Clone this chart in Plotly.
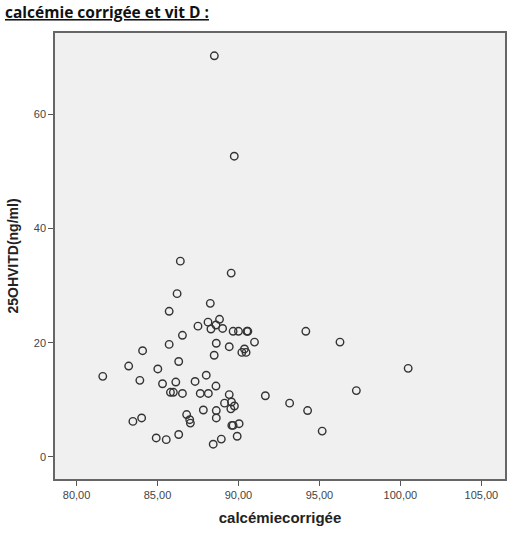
import plotly.graph_objects as go

# Data
calcemie = [88.51, 89.74, 86.41, 89.55, 86.21, 88.26, 85.72, 87.50, 88.12, 88.83,
            88.61, 88.30, 89.02, 89.67, 90.00, 90.52, 90.58, 86.54, 88.63, 90.99,
            85.72, 89.43, 90.37, 90.21, 90.47, 88.50, 84.08, 86.31, 83.22, 85.02,
            81.62, 83.91, 88.01, 85.31, 86.13, 87.32, 88.61, 85.80, 85.98, 86.54,
            87.64, 88.14, 89.43, 89.14, 89.57, 89.75, 89.53, 91.66, 93.16, 87.83,
            88.63, 88.63, 86.80, 86.99, 87.03, 84.02, 83.48, 89.59, 89.67, 90.04,
            86.31, 84.92, 85.54, 88.94, 89.92, 88.44, 94.16, 96.27, 100.48, 97.28,
            94.27, 95.17]
vitd = [70.3, 52.7, 34.3, 32.2, 28.6, 26.9, 25.5, 22.9, 23.6, 24.1,
        23.1, 22.4, 22.5, 22.0, 22.0, 22.0, 22.0, 21.3, 19.9, 20.1,
        19.7, 19.3, 18.9, 18.3, 18.3, 17.8, 18.6, 16.7, 15.9, 15.4,
        14.1, 13.4, 14.3, 12.8, 13.1, 13.2, 12.4, 11.3, 11.3, 11.1,
        11.1, 11.1, 10.9, 9.4, 9.6, 8.9, 8.4, 10.7, 9.4, 8.2,
        8.1, 6.8, 7.4, 6.5, 5.9, 6.8, 6.2, 5.5, 5.5, 5.8,
        3.9, 3.3, 3.0, 3.1, 3.6, 2.2, 22.0, 20.1, 15.5, 11.6,
        8.1, 4.5]

x_tickvals = [80, 85, 90, 95, 100, 105]
x_ticktext = ["80,00", "85,00", "90,00", "95,00", "100,00", "105,00"]
y_tickvals = [0, 20, 40, 60]
y_ticktext = ["0", "20", "40", "60"]

title_text = "calcémie corrigée et vit D :"
x_title = "calcémiecorrigée"
y_title = "25OHVITD(ng/ml)"

fig = go.Figure()
fig.add_trace(go.Scatter(
    x=calcemie, y=vitd, mode="markers",
    marker=dict(symbol="circle-open", size=7.5, color="#333333",
                line=dict(width=1.4, color="#333333")),
    showlegend=False, hoverinfo="x+y"))

axis_common = dict(showgrid=False, zeroline=False, showline=True, mirror=True,
                   linecolor="#666666", linewidth=1.5, ticks="outside",
                   ticklen=5, tickwidth=1.2, tickcolor="#555555",
                   tickfont=dict(family="Liberation Sans", size=11, color="#444444"))

fig.update_layout(
    width=517, height=538,
    margin=dict(l=55, r=10, t=33, b=59),
    paper_bgcolor="white", plot_bgcolor="#f0f0f0",
    xaxis=dict(range=[78.67, 106.46], tickvals=x_tickvals, ticktext=x_ticktext,
               title=dict(text=x_title, standoff=13,
                          font=dict(family="Liberation Sans", size=15, color="#222222", weight="bold")),
               **axis_common),
    yaxis=dict(range=[-3.9, 74.3], tickvals=y_tickvals, ticktext=y_ticktext,
               title=dict(text=y_title, standoff=12,
                          font=dict(family="Liberation Sans", size=14, color="#222222", weight="bold")),
               **axis_common),
    annotations=[dict(text="<u>" + title_text + "</u>", xref="paper", yref="paper",
                      x=(3 - 55) / 452, y=(479 + 1) / 446, xanchor="left", yanchor="top",
                      showarrow=False,
                      font=dict(family="Open Sans", size=15.5, color="#111111", weight="bold"))],
)

fig.write_html("out.html")
